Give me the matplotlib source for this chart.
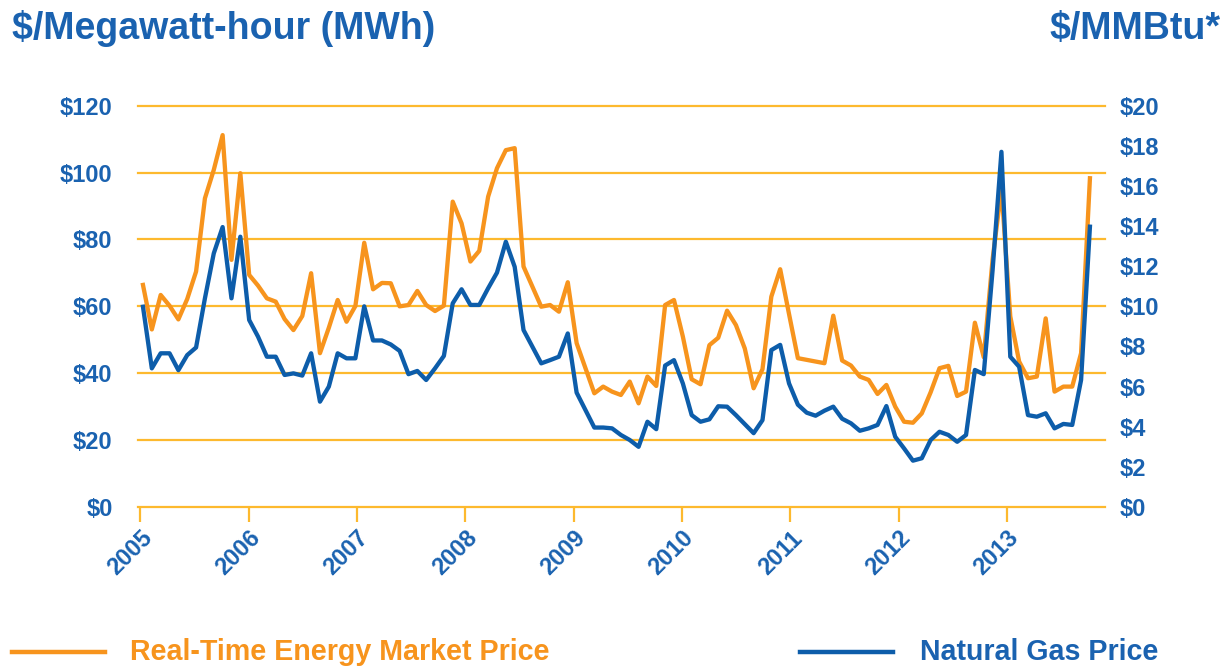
import numpy as np
import matplotlib
matplotlib.use('Agg')
import matplotlib.pyplot as plt
from matplotlib.lines import Line2D

plt.rcParams['font.family'] = ['Liberation Sans', 'DejaVu Sans']
plt.rcParams['font.weight'] = 'bold'

# Monthly averages, Jan 2005 - Dec 2013 ($/MWh)
energy_price = [
    66.4, 53.1, 63.4, 60.2, 56.1, 62.2, 70.4, 92.3, 100.8, 111.2, 73.9, 99.8,
    69.4, 66.2, 62.4, 61.4, 56.2, 52.9, 57.1, 69.9, 46.0, 53.6, 61.9, 55.4,
    60.1, 79.0, 65.1, 67.0, 66.9, 60.0, 60.4, 64.6, 60.4, 58.6, 60.2, 91.3,
    84.8, 73.4, 76.6, 92.8, 101.3, 106.7, 107.3, 71.9, 65.9, 59.9, 60.4, 58.4,
    67.2, 49.0, 41.5, 34.0, 36.0, 34.5, 33.5, 37.5, 31.0, 39.0, 36.2, 60.4,
    61.9, 51.0, 38.2, 36.7, 48.4, 50.6, 58.7, 54.4, 47.4, 35.5, 41.2, 62.9,
    71.1, 57.7, 44.5, 44.0, 43.5, 43.0, 57.2, 43.8, 42.3, 39.0, 38.0, 33.8,
    36.5, 30.0, 25.5, 25.2, 28.0, 34.3, 41.5, 42.2, 33.2, 34.5, 55.1, 44.8,
    74.0, 95.3, 57.0, 43.5, 38.5, 39.0, 56.4, 34.5, 36.0, 36.0, 46.0, 98.3,
]

# Monthly averages, Jan 2005 - Dec 2013 ($/MMBtu)
gas_price = [
    9.98, 6.91, 7.66, 7.66, 6.82, 7.57, 7.95, 10.4, 12.64, 13.95, 10.4, 13.47,
    9.32, 8.49, 7.49, 7.49, 6.58, 6.66, 6.55, 7.66, 5.25, 6.0, 7.66, 7.41,
    7.41, 10.0, 8.3, 8.3, 8.1, 7.78, 6.62, 6.78, 6.33, 6.91, 7.53, 10.15,
    10.85, 10.07, 10.07, 10.9, 11.68, 13.22, 11.97, 8.82, 7.99, 7.16, 7.32, 7.49,
    8.65, 5.7, 4.83, 3.96, 3.96, 3.92, 3.59, 3.34, 3.0, 4.25, 3.88, 7.05,
    7.32, 6.16, 4.58, 4.25, 4.37, 5.02, 5.0, 4.58, 4.13, 3.68, 4.33, 7.82,
    8.08, 6.16, 5.1, 4.7, 4.55, 4.8, 5.0, 4.4, 4.17, 3.8, 3.92, 4.09,
    5.03, 3.5, 2.92, 2.31, 2.43, 3.34, 3.75, 3.59, 3.25, 3.59, 6.83, 6.62,
    11.8, 17.7, 7.49, 6.99, 4.58, 4.5, 4.67, 3.92, 4.14, 4.09, 6.33, 13.97,
]

years = ['2005', '2006', '2007', '2008', '2009', '2010', '2011', '2012', '2013']
mwh_ticks = [0, 20, 40, 60, 80, 100, 120]
gas_ticks = [0, 2, 4, 6, 8, 10, 12, 14, 16, 18, 20]

ORANGE = '#F7941D'
BLUE = '#0D5DAA'
TEXT_BLUE = '#1A62B0'
GRID = '#FDB92E'

fig = plt.figure(figsize=(12.24, 6.68), dpi=100)
ax = fig.add_axes([0.1124, 0.2410, 0.7900, 0.6008])
ax2 = ax.twinx()

months = np.arange(len(energy_price))
ax.plot(months, energy_price, color=ORANGE, lw=3.1, zorder=3)
ax2.plot(months, gas_price, color=BLUE, lw=3.1, zorder=3)

ax.set_ylim(0, 120)
ax2.set_ylim(0, 20)
ax.set_xlim(-0.61, 108.65)

for a in (ax, ax2):
    for s in a.spines.values():
        s.set_visible(False)

ax.set_yticks(mwh_ticks)
ax.set_yticklabels([r'\$%d' % v for v in mwh_ticks])
ax.yaxis.grid(True, color=GRID, lw=1.6)
for gl in ax.get_ygridlines():
    gl.set_clip_on(False)
ax.tick_params(axis='y', length=0, pad=18, labelsize=17, labelcolor=TEXT_BLUE)

ax2.set_yticks(gas_ticks)
ax2.set_yticklabels([r'\$%d' % v for v in gas_ticks])
ax2.tick_params(axis='y', length=0, pad=11, labelsize=17, labelcolor=TEXT_BLUE)

# year ticks of the original axis run slightly wider than 12 months
year_pos = -0.3 + 12.24 * np.arange(len(years))
ax.set_xticks(year_pos)
ax.set_xticklabels(years, rotation=45, ha='right', va='top', rotation_mode='anchor')
ax.tick_params(axis='x', length=11, width=1.6, color=GRID, pad=3,
               labelsize=17, labelcolor=TEXT_BLUE)

fig.text(0.0098, 0.957, r'\$/Megawatt-hour (MWh)', color=TEXT_BLUE, fontsize=27,
         ha='left', va='center')
fig.text(0.997, 0.957, r'\$/MMBtu*', color=TEXT_BLUE, fontsize=27,
         ha='right', va='center')

# legend along the bottom
fig.add_artist(Line2D([0.0098, 0.0858], [0.024, 0.024], color=ORANGE, lw=3.2))
fig.text(0.1062, 0.024, 'Real-Time Energy Market Price', color=ORANGE, fontsize=20.6,
         ha='left', va='center')
fig.add_artist(Line2D([0.6536, 0.7296], [0.024, 0.024], color=BLUE, lw=3.2))
fig.text(0.7516, 0.024, 'Natural Gas Price', color=TEXT_BLUE, fontsize=20.6,
         ha='left', va='center')

fig.savefig('out.png', dpi=100)
